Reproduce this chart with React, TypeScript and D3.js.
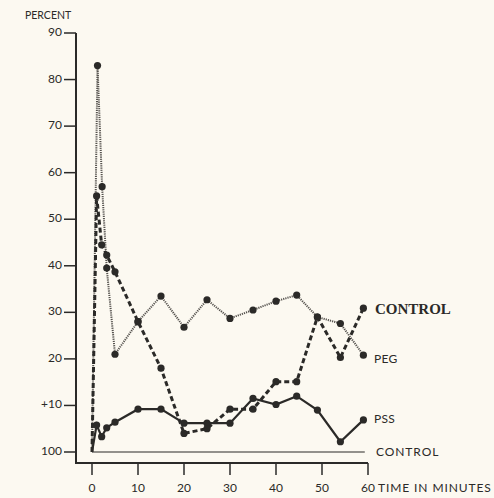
import React, { useRef, useEffect } from 'react';
import * as d3 from 'd3';

// minutes and percent values
const controlT = [0, 1, 2.1, 3.2, 5, 10, 15, 20, 25, 30, 35, 40, 44.5, 49, 54, 59];
const controlV = [0, 55, 44.5, 42.3, 38.7, 28, 18, 4, 5, 9.2, 9.2, 15.1, 15.1, 29, 20.3, 30.9];

const pegT = [0, 1.2, 2.2, 3.2, 5, 10, 15, 20, 25, 30, 35, 40, 44.5, 49, 54, 59];
const pegV = [0, 83, 57, 39.5, 21, 28, 33.5, 26.8, 32.7, 28.7, 30.5, 32.4, 33.7, 29, 27.6, 20.8];

const pssT = [0, 1, 2.1, 3.2, 5, 10, 15, 20, 25, 30, 35, 40, 44.5, 49, 54, 59];
const pssV = [0, 5.8, 3.3, 5.2, 6.4, 9.2, 9.2, 6.2, 6.2, 6.2, 11.5, 10.2, 12, 9, 2.2, 6.9];

const yTicks = [0, 10, 20, 30, 40, 50, 60, 70, 80, 90];
const yLabels = ['100', '+10', '20', '30', '40', '50', '60', '70', '80', '90'];
const xTicks = [0, 10, 20, 30, 40, 50, 60];

const ink = '#2b2a28';
const sans = 'Lato, sans-serif';

const App = () => {
  const ref = useRef<SVGSVGElement>(null);

  useEffect(() => {
    const svg = d3.select(ref.current);
    svg.selectAll('*').remove();

    const x = d3.scaleLinear().domain([0, 60]).range([92, 368]);
    const y = d3.scaleLinear().domain([0, 90]).range([452, 33]);
    const axisX = 76;
    const axisY = 463;

    svg.append('rect').attr('width', 494).attr('height', 498).attr('fill', '#fcf9f1');

    // axes (L shape)
    svg.append('path')
      .attr('d', `M${axisX},${y(90)}V${axisY}H${x(60)}`)
      .attr('fill', 'none').attr('stroke', ink).attr('stroke-width', 2);

    // y ticks
    const yg = svg.append('g');
    yTicks.forEach((t, i) => {
      yg.append('line')
        .attr('x1', axisX - 12).attr('x2', axisX)
        .attr('y1', y(t)).attr('y2', y(t))
        .attr('stroke', ink).attr('stroke-width', 1.5);
      yg.append('text')
        .attr('x', axisX - 14).attr('y', y(t) + 3)
        .attr('text-anchor', 'end')
        .attr('font-family', sans).attr('font-size', 12)
        .attr('fill', ink)
        .text(yLabels[i]);
    });

    svg.append('text')
      .attr('x', 25).attr('y', 19)
      .attr('font-family', sans).attr('font-size', 10.5)
      .attr('fill', ink)
      .text('PERCENT');

    // x ticks
    const xg = svg.append('g');
    xTicks.forEach(t => {
      xg.append('line')
        .attr('x1', x(t)).attr('x2', x(t))
        .attr('y1', axisY).attr('y2', axisY + 12)
        .attr('stroke', ink).attr('stroke-width', 1.5);
      xg.append('text')
        .attr('x', x(t)).attr('y', 492)
        .attr('text-anchor', 'middle')
        .attr('font-family', sans).attr('font-size', 12)
        .attr('fill', ink)
        .text(String(t));
    });
    svg.append('text')
      .attr('x', 378).attr('y', 492)
      .attr('font-family', sans).attr('font-size', 12)
      .attr('letter-spacing', 0.9)
      .attr('fill', ink)
      .text('TIME IN MINUTES');

    // control baseline
    svg.append('line')
      .attr('x1', x(0)).attr('x2', x(59.3))
      .attr('y1', y(0)).attr('y2', y(0))
      .attr('stroke', ink).attr('stroke-width', 1.2);

    const line = d3.line<[number, number]>()
      .x(d => x(d[0]))
      .y(d => y(d[1]));

    const series = [
      { t: pegT, v: pegV, width: 2, dash: '1.2,1', color: '#55524e' },
      { t: pssT, v: pssV, width: 2.2, dash: null, color: ink },
      { t: controlT, v: controlV, width: 3, dash: '5,3', color: ink },
    ];

    series.forEach(s => {
      const pts: [number, number][] = s.t.map((t, i) => [t, s.v[i]]);
      svg.append('path')
        .datum(pts)
        .attr('d', line)
        .attr('fill', 'none')
        .attr('stroke', s.color)
        .attr('stroke-width', s.width)
        .attr('stroke-dasharray', s.dash);
      svg.append('g')
        .selectAll('circle')
        .data(pts.filter(p => p[1] > 0))
        .join('circle')
        .attr('cx', d => x(d[0]))
        .attr('cy', d => y(d[1]))
        .attr('r', 3.6)
        .attr('fill', ink);
    });

    // series labels
    svg.append('text')
      .attr('x', 375).attr('y', 314)
      .attr('font-family', '"Liberation Serif", serif')
      .attr('font-weight', 'bold').attr('font-size', 15)
      .attr('fill', ink)
      .text('CONTROL');
    const labels = [
      { text: 'PEG', yv: 363 },
      { text: 'PSS', yv: 423 },
      { text: 'CONTROL', yv: 456 },
    ];
    labels.forEach(l => {
      svg.append('text')
        .attr('x', l.text === 'CONTROL' ? 376 : 374).attr('y', l.yv)
        .attr('font-family', sans).attr('font-size', 12)
        .attr('letter-spacing', l.text === 'CONTROL' ? 0.9 : 0.3)
        .attr('fill', ink)
        .text(l.text);
    });
  }, []);

  return (
    <svg
      ref={ref}
      width={494}
      height={498}
      style={{ position: 'absolute', left: 0, top: 0 }}
    />
  );
};

export default App;
